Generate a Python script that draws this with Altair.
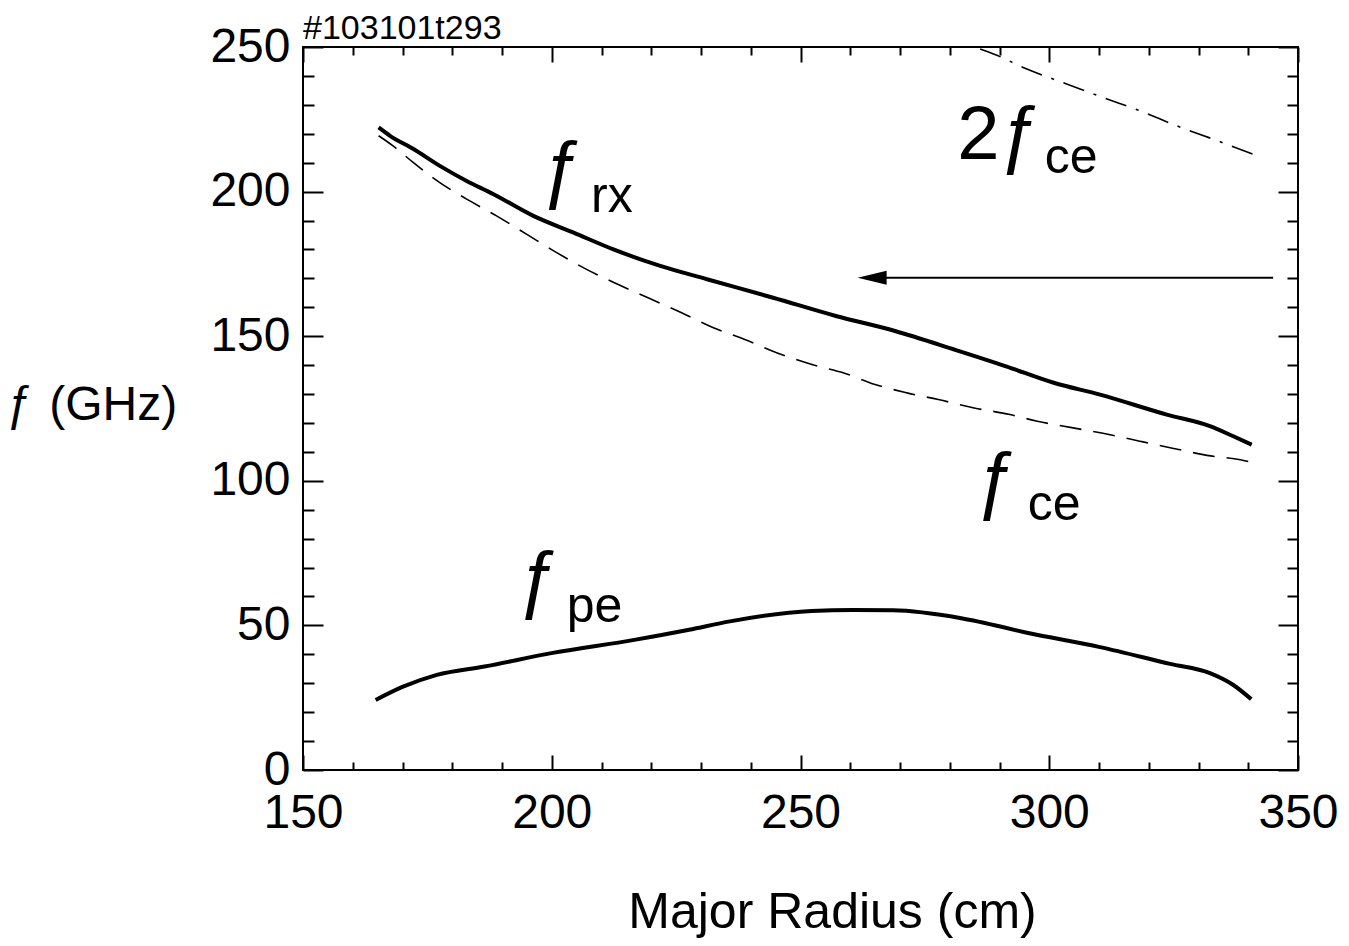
import altair as alt
import pandas as pd

# ---- data ----
R_rx = [165.2, 167.5, 172.2, 177.5, 182.9, 188.3, 196.3, 204.4, 212.4, 221.8, 231.2,
        244.5, 257.1, 269.0, 280.9, 291.3, 300.9, 310.2, 323.6, 332.3, 337.0, 340.7]
F_rx = [222.2, 219.3, 214.7, 208.9, 203.7, 199.1, 191.6, 185.8, 180.0, 174.3, 169.7,
        163.3, 157.0, 151.8, 145.4, 139.6, 133.9, 129.8, 122.9, 118.9, 115.4, 112.5]

R_ce = [165.2, 168.1, 172.2, 177.5, 182.9, 188.9, 195.0, 201.0, 207.0, 213.7, 219.7,
        226.1, 232.5, 238.8, 245.2, 252.3, 258.7, 265.0, 271.4, 277.7, 284.9, 292.1,
        297.6, 304.8, 312.0, 318.2, 325.0, 331.7, 338.4, 340.0]
F_ce = [219.3, 215.8, 210.0, 203.1, 197.4, 191.6, 185.2, 178.9, 173.1, 167.6, 163.0,
        158.1, 152.9, 148.9, 144.3, 140.2, 137.3, 133.3, 130.4, 128.1, 125.2, 122.9,
        120.6, 118.3, 116.0, 113.7, 111.2, 108.8, 107.3, 106.7]

R_2ce = [286.1, 288.8, 295.5, 303.5, 310.9, 318.3, 325.7, 333.0, 341.0]
F_2ce = [249.3, 247.6, 242.4, 237.2, 232.5, 227.9, 222.7, 218.1, 212.9]

R_pe = [164.6, 170.1, 176.9, 186.5, 200.2, 216.6, 227.6, 235.8, 252.2, 260.5, 268.6,
        282.3, 296.0, 310.2, 324.3, 332.3, 337.0, 340.6]
F_pe = [24.2, 28.8, 32.9, 35.8, 40.5, 45.0, 48.5, 51.4, 55.0, 55.3, 55.2,
        52.5, 47.3, 42.5, 36.7, 33.5, 29.4, 24.5]

X_MAJOR = [150, 200, 250, 300, 350]
X_MINOR = [v for v in range(160, 350, 10) if v % 50]
Y_MAJOR = [0, 50, 100, 150, 200, 250]
Y_MINOR = [v for v in range(10, 250, 10) if v % 50]

# annotations (text, position in data units, font size)
ANN_TEXT = ["2ƒ", "ce", "ƒ", "rx", "ƒ", "ce", "ƒ", "pe"]
ANN_R = [281.5, 299.1, 198.0, 207.9, 285.3, 295.7, 193.2, 203.0]
ANN_F = [211.2, 206.4, 199.0, 192.9, 91.8, 86.6, 57.4, 51.3]
ANN_SIZE = [76, 50, 76, 50, 76, 50, 76, 50]

ARROW_R = [267.0]
ARROW_R2 = [345.0]
ARROW_HEAD_R = [264.4]
ARROW_F = [170.2]

W, H = 995, 723
FONT = "Liberation Sans"

xs = alt.Scale(domain=[150, 350], nice=False, zero=False)
ys = alt.Scale(domain=[0, 250], nice=False, zero=False)


def sdf(R, F):
    return pd.DataFrame({"R": R, "f": F})


rx = alt.Chart(sdf(R_rx, F_rx)).mark_line(color="black", strokeWidth=4, interpolate="monotone").encode(
    x=alt.X("R:Q", scale=xs, axis=alt.Axis(
        values=X_MAJOR, ticks=False, domain=False, grid=False, labelFontSize=48,
        labelPadding=19, labelFlush=False, labelOverlap=False,
        title="Major Radius (cm)", titleFontSize=50, titleFontWeight="normal",
        titleX=529, titleY=157, titleBaseline="alphabetic", titleAlign="center")),
    y=alt.Y("f:Q", scale=ys, axis=alt.Axis(
        values=Y_MAJOR, ticks=False, domain=False, grid=False, labelFontSize=48,
        labelPadding=13, labelFlush=False, labelOverlap=False,
        title="ƒ\u2004(GHz)", titleFontSize=48, titleFontWeight="normal", titleAngle=0,
        titleX=-297, titleY=358, titleAlign="left", titleBaseline="middle")),
)

ce = alt.Chart(sdf(R_ce, F_ce)).mark_line(color="black", strokeWidth=1.6, strokeDash=[22, 12],
                                          interpolate="monotone").encode(
    x=alt.X("R:Q", scale=xs, axis=None), y=alt.Y("f:Q", scale=ys, axis=None))
ce2 = alt.Chart(sdf(R_2ce, F_2ce)).mark_line(color="black", strokeWidth=1.6, strokeDash=[22, 10, 3, 10],
                                             interpolate="monotone").encode(
    x=alt.X("R:Q", scale=xs, axis=None), y=alt.Y("f:Q", scale=ys, axis=None))
pe = alt.Chart(sdf(R_pe, F_pe)).mark_line(color="black", strokeWidth=4, interpolate="monotone").encode(
    x=alt.X("R:Q", scale=xs, axis=None), y=alt.Y("f:Q", scale=ys, axis=None))


def tick_axis(orient, offset, values, size):
    return alt.Axis(orient=orient, offset=offset, values=values, labels=False, domain=False,
                    grid=False, title=None, ticks=True, tickSize=size, tickWidth=2,
                    tickColor="black")


def tick_layer(xaxis, yaxis):
    return alt.Chart(sdf(R_rx, F_rx)).mark_point(opacity=0).encode(
        x=alt.X("R:Q", scale=xs, axis=xaxis), y=alt.Y("f:Q", scale=ys, axis=yaxis))


ticks = [
    tick_layer(tick_axis("top", -H, X_MAJOR, 15), tick_axis("right", -W, Y_MAJOR, 20)),
    tick_layer(tick_axis("top", -H, X_MINOR, 8), tick_axis("right", -W, Y_MINOR, 11)),
    tick_layer(tick_axis("bottom", -H, X_MAJOR, 15), tick_axis("left", -W, Y_MAJOR, 20)),
    tick_layer(tick_axis("bottom", -H, X_MINOR, 8), tick_axis("left", -W, Y_MINOR, 11)),
]

ann = alt.Chart(pd.DataFrame({"t": ANN_TEXT, "R": ANN_R, "f": ANN_F, "s": ANN_SIZE})).mark_text(
    font=FONT, align="left", baseline="alphabetic", color="black").encode(
    x=alt.X("R:Q", scale=xs, axis=None), y=alt.Y("f:Q", scale=ys, axis=None),
    text="t:N", size=alt.Size("s:Q", scale=None, legend=None))

arrow_df = pd.DataFrame({"R": ARROW_R, "R2": ARROW_R2, "f": ARROW_F, "Rh": ARROW_HEAD_R})
arrow_line = alt.Chart(arrow_df).mark_rule(color="black", strokeWidth=2).encode(
    x=alt.X("R:Q", scale=xs, axis=None), x2="R2:Q", y=alt.Y("f:Q", scale=ys, axis=None))
arrow_head = alt.Chart(arrow_df).mark_point(
    shape="M -1 0 L 1 -0.48 L 1 0.48 Z", filled=True, color="black", opacity=1, size=841).encode(
    x=alt.X("Rh:Q", scale=xs, axis=None), y=alt.Y("f:Q", scale=ys, axis=None))

shot = alt.Chart(pd.DataFrame({"t": ["#103101t293"]})).mark_text(
    font=FONT, fontSize=34, align="left", baseline="alphabetic", color="black").encode(
    x=alt.value(0), y=alt.value(-8), text="t:N")

chart = alt.layer(rx, ce, ce2, pe, *ticks, ann, arrow_line, arrow_head, shot).resolve_axis(
    x="independent", y="independent").properties(
    width=W, height=H, autosize=alt.AutoSizeParams(type="none"),
    padding={"left": 295, "top": 39, "right": 42, "bottom": 168},
).configure_axis(labelFont=FONT, titleFont=FONT, labelColor="black", titleColor="black").configure_view(
    stroke="black", strokeWidth=2)

chart.save("out.html", embed_options={"renderer": "svg", "actions": False})
